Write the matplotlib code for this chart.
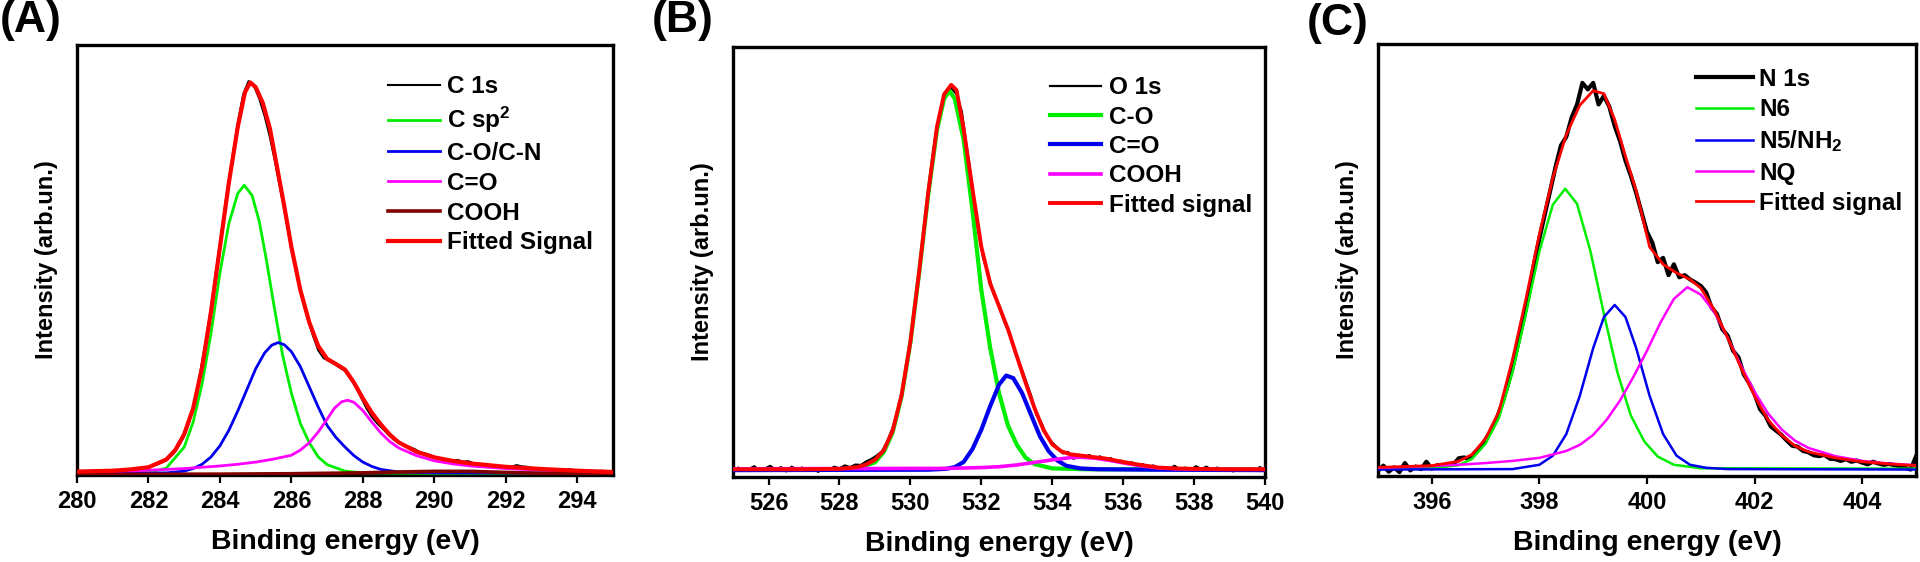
import numpy as np
import matplotlib
matplotlib.use('Agg')
import matplotlib.pyplot as plt

plt.rcParams['font.family'] = ['Liberation Sans', 'DejaVu Sans']
plt.rcParams['font.weight'] = 'bold'
plt.rcParams['mathtext.fontset'] = 'custom'
plt.rcParams['mathtext.rm'] = 'Liberation Sans:bold'
plt.rcParams['mathtext.bf'] = 'Liberation Sans:bold'
plt.rcParams['mathtext.it'] = 'Liberation Sans:bold'

# ---------------- Panel A : C 1s ----------------
a_data_y = [0.8, 0.8, 0.8, 0.9, 0.9, 0.9, 1.0, 1.0, 1.1, 1.2, 1.3, 1.4, 1.6, 1.8, 2.1, 2.5, 3.0, 3.8,
            5.0, 6.8, 9.0, 12.5, 17.5, 24, 31, 39, 48, 57, 66, 74, 82, 88.5, 91.6, 90.5, 87.5, 83.5,
            78.5, 72.5, 66, 59.5, 52.5, 46.5, 41, 36.5, 32.5, 29, 27.2, 26.5, 25.8, 25, 24.2, 22.5,
            20.5, 18, 15.5, 13.5, 12, 10.8, 9.5, 8.3, 7.5, 7.0, 6.5, 6.0, 5.3, 5.0, 4.6, 4.1, 3.7,
            3.5, 3.4, 3.5, 3.1, 3.2, 2.7, 2.5, 2.4, 2.2, 2.1, 2.0, 1.9, 1.9, 2.3, 2.0, 1.9, 1.6, 1.5,
            1.4, 1.3, 1.3, 1.2, 1.2, 1.3, 1.1, 1.0, 0.9, 0.9, 0.9, 1.0, 0.8, 0.7]
a_data_x = np.linspace(280, 295, len(a_data_y))

a_fit_x = [280, 281, 281.5, 282, 282.5, 282.75, 283, 283.25, 283.5, 283.75, 284, 284.25, 284.5, 284.7,
           284.85, 285.0, 285.2, 285.4, 285.6, 285.8, 286.0, 286.25, 286.5, 286.75, 287.0, 287.25,
           287.5, 287.75, 288.0, 288.25, 288.5, 288.75, 289.0, 289.5, 290, 290.5, 291, 292, 293, 294, 295]
a_fit_y = [0.8, 1.0, 1.3, 1.8, 3.6, 5.8, 9.5, 15.5, 25, 38, 53, 68, 81, 89, 91.3, 90.2, 86.5, 80.5,
           71.5, 62.5, 53, 43, 35.5, 30, 27, 25.8, 24.5, 21.5, 17.8, 14.5, 11.8, 9.4, 7.6, 5.4, 4.1,
           3.3, 2.7, 1.9, 1.4, 1.0, 0.7]

a_sp2_x = [280, 281, 282, 282.5, 283, 283.25, 283.5, 283.75, 284, 284.25, 284.5, 284.68, 284.9, 285.1,
           285.3, 285.5, 285.75, 286, 286.25, 286.5, 286.75, 287, 287.5, 288, 290, 295]
a_sp2_y = [0.4, 0.4, 0.6, 1.6, 6.5, 12.3, 21.2, 33, 47, 58.5, 65.5, 67.4, 65, 59, 50, 40, 28, 19, 12,
           7.5, 4.2, 2.4, 0.9, 0.5, 0.4, 0.4]

a_co_x = [280, 282, 282.5, 283, 283.25, 283.5, 283.75, 284, 284.25, 284.5, 284.75, 285, 285.25, 285.45,
          285.63, 285.8, 286, 286.25, 286.5, 286.75, 287, 287.25, 287.5, 287.75, 288, 288.25, 288.5,
          289, 290, 295]
a_co_y = [0.4, 0.45, 0.5, 0.9, 1.5, 2.5, 4.2, 6.8, 10.4, 14.9, 19.8, 24.7, 28.4, 30.2, 30.8, 30.3,
          28.7, 25.2, 20.5, 15.8, 11.5, 8.7, 6.5, 4.5, 3.0, 2.0, 1.3, 0.7, 0.5, 0.4]

a_cdo_x = [280, 281, 282, 283, 284, 284.5, 285, 285.5, 286, 286.25, 286.5, 286.75, 287, 287.2, 287.4,
           287.57, 287.75, 288, 288.25, 288.5, 288.75, 289, 289.5, 290, 290.5, 291, 292, 293, 294, 295]
a_cdo_y = [0.6, 0.8, 1.1, 1.5, 2.1, 2.5, 3.0, 3.7, 4.6, 5.8, 7.5, 10, 13, 15.5, 17, 17.4, 16.9, 15,
           12.3, 9.8, 7.8, 6.3, 4.5, 3.3, 2.6, 2.1, 1.5, 1.1, 0.8, 0.6]

a_cooh_x = [280, 284, 286, 288, 289, 290, 291, 292, 293, 295]
a_cooh_y = [0.15, 0.2, 0.3, 0.5, 0.7, 0.85, 0.85, 0.6, 0.4, 0.25]

# ---------------- Panel B : O 1s ----------------
b_data_y = [1.6, 2.2, 1.4, 1.9, 2.5, 1.5, 2.0, 2.6, 1.7, 2.3, 1.3, 2.4, 1.8, 2.2, 1.5, 1.9, 1.2, 2.1,
            1.6, 2.4, 2.0, 2.7, 2.3, 2.9, 2.8, 3.6, 4.2, 5.0, 6.0, 8.3, 11.5, 15.5, 21, 29, 38, 48,
            58.5, 70, 79, 85.5, 89.5, 90.5, 89, 85, 76, 67.5, 58, 51, 47, 42.5, 40, 36, 33.5, 29, 26,
            22.5, 19, 14.5, 12.5, 9.5, 8.0, 6.8, 5.5, 5.8, 4.2, 5.2, 4.6, 5.1, 4.3, 4.8, 3.9, 4.4,
            3.5, 3.8, 3.0, 3.4, 2.6, 3.0, 2.2, 2.7, 1.6, 2.3, 2.0, 2.6, 1.7, 2.2, 1.6, 2.5, 1.9, 2.4,
            1.6, 2.2, 1.5, 2.0, 1.3, 1.9, 1.4, 2.1, 1.5, 2.3, 1.8]
b_data_x = np.linspace(525, 540, len(b_data_y))

b_fit_x = [525, 526, 527, 528, 528.5, 528.75, 529, 529.25, 529.5, 529.75, 530, 530.25, 530.5, 530.75,
           530.95, 531.15, 531.3, 531.5, 531.75, 532, 532.25, 532.5, 532.75, 533, 533.25, 533.5,
           533.75, 534, 534.25, 534.5, 535, 535.5, 536, 536.5, 537, 537.5, 538, 539, 540]
b_fit_y = [1.8, 1.8, 1.8, 1.9, 2.3, 2.9, 4.0, 6.2, 10.8, 19, 31.5, 48, 66, 81.5, 89, 91.2, 90, 81,
           67, 53.5, 45, 39.7, 34.4, 28.1, 21.9, 16, 11, 7.6, 6.0, 5.3, 4.8, 4.3, 3.5, 2.8, 2.2, 2.0,
           1.9, 1.8, 1.8]

b_co_x = [525, 528, 528.5, 529, 529.25, 529.5, 529.75, 530, 530.25, 530.5, 530.75, 530.95, 531.1,
          531.25, 531.5, 531.75, 532, 532.25, 532.5, 532.75, 533, 533.25, 533.5, 534, 535, 540]
b_co_y = [1.8, 1.8, 2.0, 3.4, 5.8, 10.4, 18.7, 31.3, 47.7, 65.5, 80.7, 88, 89.8, 88, 78.5, 62, 43.5,
          30, 19.5, 12, 7.5, 4.5, 3.0, 2.0, 1.8, 1.8]

b_cdo_x = [525, 530.5, 531, 531.25, 531.5, 531.75, 532, 532.25, 532.5, 532.7, 532.9, 533.15, 533.4,
           533.65, 533.9, 534.15, 534.4, 534.8, 535.3, 537, 540]
b_cdo_y = [1.6, 1.7, 1.9, 2.3, 3.5, 6.5, 11, 16.5, 21.5, 23.6, 23, 19.5, 14.5, 9.5, 6.0, 3.8, 2.6,
           2.0, 1.8, 1.7, 1.6]

b_cooh_x = [525, 530, 531, 532, 532.5, 533, 533.5, 534, 534.5, 534.8, 535.2, 535.6, 536, 536.5, 537,
            537.5, 538, 540]
b_cooh_y = [1.9, 2.0, 2.0, 2.2, 2.4, 2.8, 3.4, 4.0, 4.5, 4.6, 4.4, 3.9, 3.3, 2.6, 2.1, 1.9, 1.8, 1.8]

# ---------------- Panel C : N 1s ----------------
c_data_y = [1.2, 2.4, 1.0, 2.0, 0.9, 3.0, 1.3, 2.2, 1.6, 3.3, 1.7, 2.5, 2.3, 2.8, 2.6, 4.1, 4.3, 3.9,
            5.5, 6.5, 8.5, 10.5, 13, 16.5, 20.5, 25, 30.5, 36, 42, 49, 55, 60.5, 66, 71.5, 76.5, 78.5,
            83, 86, 91, 89.5, 91, 86, 88, 85.5, 81, 77.5, 73, 69.5, 65.5, 61, 56.5, 54, 49.5, 50.5,
            46.5, 49, 46, 46.5, 45.5, 44.8, 44, 42.5, 39, 37.5, 34, 32.5, 29, 27.5, 23.5, 21.5, 19,
            15.5, 14, 11.5, 10.5, 9.5, 8.2, 7.0, 6.8, 5.8, 5.5, 4.8, 4.6, 4.9, 4.0, 3.9, 3.5, 3.9,
            3.3, 3.6, 3.1, 2.7, 3.3, 2.9, 2.6, 2.8, 2.5, 2.3, 1.9, 1.5, 4.5]
c_data_x = np.linspace(395, 405, len(c_data_y))

c_fit_x = [395, 396, 396.5, 396.75, 397, 397.25, 397.5, 397.75, 398, 398.25, 398.5, 398.75, 399,
           399.2, 399.4, 399.6, 399.8, 400.05, 400.3, 400.55, 400.8, 401, 401.25, 401.5, 401.75, 402,
           402.25, 402.5, 402.75, 403, 403.5, 404, 404.5, 405]
c_fit_y = [2.0, 2.4, 3.4, 5.0, 8.7, 15, 27, 41, 56, 69, 79, 85.8, 89.2, 88.5, 82.5, 74, 66, 53, 49,
           47, 45.5, 43.5, 38.5, 32, 25, 18.5, 13, 9.5, 7, 5.6, 4.2, 3.3, 2.8, 2.4]

c_n6_x = [395, 396, 396.5, 396.75, 397, 397.25, 397.5, 397.75, 398, 398.25, 398.48, 398.7, 398.95,
          399.2, 399.45, 399.7, 399.95, 400.2, 400.5, 401, 405]
c_n6_y = [1.7, 1.8, 2.5, 4.0, 7.5, 13.5, 24, 37.5, 52, 62.8, 66.5, 63, 52, 37.5, 24, 14, 8, 4.5, 2.6,
          1.8, 1.7]

c_n5_x = [395, 397.5, 398, 398.25, 398.5, 398.75, 399, 399.2, 399.4, 399.6, 399.8, 400.05, 400.3,
          400.55, 400.8, 401.1, 401.5, 405]
c_n5_y = [1.5, 1.6, 2.6, 4.7, 9.7, 18.5, 29.6, 36.8, 39.6, 36.8, 29.6, 18.5, 9.7, 4.7, 2.6, 1.9, 1.6,
          1.5]

c_nq_x = [395, 396, 396.5, 397, 397.5, 398, 398.5, 398.75, 399, 399.25, 399.5, 399.75, 400, 400.25,
          400.5, 400.75, 401, 401.25, 401.5, 401.75, 402, 402.25, 402.5, 402.75, 403, 403.5, 404,
          404.5, 405]
c_nq_y = [1.9, 2.3, 2.6, 3.0, 3.5, 4.2, 5.8, 7.2, 9.5, 13, 17.5, 23, 29, 35.5, 41, 43.7, 42, 38, 32,
          25.5, 19.5, 14.5, 10.8, 8.2, 6.5, 4.6, 3.5, 2.9, 2.5]

a_ticks = [280, 282, 284, 286, 288, 290, 292, 294]
b_ticks = [526, 528, 530, 532, 534, 536, 538, 540]
c_ticks = [396, 398, 400, 402, 404]

GREEN = '#00ee00'
BLUE = '#0000ee'
MAG = '#ff00ff'
RED = '#ff0000'
BROWN = '#800000'

fig = plt.figure(figsize=(19.2, 5.62), dpi=100)
axA = fig.add_axes([0.0401, 0.1548, 0.2792, 0.7651])
axB = fig.add_axes([0.3818, 0.1512, 0.2771, 0.7651])
axC = fig.add_axes([0.7177, 0.1530, 0.2802, 0.7687])


def style(ax, xlim, ticks):
    ax.set_xlim(*xlim)
    ax.set_ylim(0, 100)
    ax.set_xticks(ticks)
    ax.set_xticklabels([str(t) for t in ticks])
    ax.set_yticks([])
    for s in ax.spines.values():
        s.set_linewidth(2.4)
    ax.tick_params(axis='x', direction='out', length=6, width=1.6, labelsize=17, pad=5)
    for lab in ax.get_xticklabels():
        lab.set_fontweight('bold')
    ax.set_xlabel('Binding energy (eV)', fontsize=20.5, fontweight='bold', labelpad=11)
    ax.set_ylabel('Intensity (arb.un.)', fontsize=17, fontweight='bold')
    ax.yaxis.set_label_coords(-0.036, 0.5)


LEG = dict(loc='upper left', frameon=False, fontsize=17.5, borderaxespad=0, borderpad=0)

# Panel A
axA.plot(a_data_x, a_data_y, color='black', lw=1.5, label='C 1s', zorder=2)
axA.plot(a_sp2_x, a_sp2_y, color=GREEN, lw=2.0, label='C sp$^{2}$', zorder=3)
axA.plot(a_co_x, a_co_y, color=BLUE, lw=2.0, label='C-O/C-N', zorder=3)
axA.plot(a_cdo_x, a_cdo_y, color=MAG, lw=2.0, label='C=O', zorder=3)
axA.plot(a_cooh_x, a_cooh_y, color=BROWN, lw=2.6, label='COOH', zorder=3)
axA.plot(a_fit_x, a_fit_y, color=RED, lw=3.0, label='Fitted Signal', zorder=4)
style(axA, (280, 295), a_ticks)
axA.legend(bbox_to_anchor=(0.58, 0.93), handlelength=2.15, handletextpad=0.3,
           labelspacing=0.28, **LEG)

# Panel B
axB.plot(b_data_x, b_data_y, color='black', lw=1.6, label='O 1s', zorder=2)
axB.plot(b_co_x, b_co_y, color=GREEN, lw=3.0, label='C-O', zorder=3)
axB.plot(b_cdo_x, b_cdo_y, color=BLUE, lw=3.0, label='C=O', zorder=3)
axB.plot(b_cooh_x, b_cooh_y, color=MAG, lw=2.6, label='COOH', zorder=3)
axB.plot(b_fit_x, b_fit_y, color=RED, lw=2.8, label='Fitted signal', zorder=4)
style(axB, (525, 540), b_ticks)
axB.legend(bbox_to_anchor=(0.596, 0.932), handlelength=2.1, handletextpad=0.33,
           labelspacing=0.26, **LEG)

# Panel C
axC.plot(c_data_x, c_data_y, color='black', lw=3.0, label='N 1s', zorder=2)
axC.plot(c_n6_x, c_n6_y, color=GREEN, lw=1.8, label='N6', zorder=3)
axC.plot(c_n5_x, c_n5_y, color=BLUE, lw=1.8, label='N5/NH$_{2}$', zorder=3)
axC.plot(c_nq_x, c_nq_y, color=MAG, lw=1.8, label='NQ', zorder=3)
axC.plot(c_fit_x, c_fit_y, color=RED, lw=2.0, label='Fitted signal', zorder=4)
style(axC, (395, 405), c_ticks)
axC.legend(bbox_to_anchor=(0.591, 0.945), handlelength=2.35, handletextpad=0.25,
           labelspacing=0.30, **LEG)

# Panel letters
fig.text(0.0, 1.0, '(A)', fontsize=32, fontweight='bold', ha='left', va='top')
fig.text(652 / 1920, 1.0, '(B)', fontsize=32, fontweight='bold', ha='left', va='top')
fig.text(1307 / 1920, 0.995, '(C)', fontsize=32, fontweight='bold', ha='left', va='top')

fig.savefig('out.png', dpi=100)
